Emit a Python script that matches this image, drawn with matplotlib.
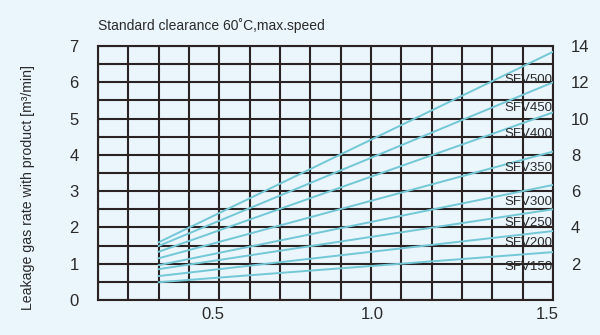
import numpy as np
import matplotlib.pyplot as plt

plt.rcParams['font.family'] = ['Liberation Sans', 'DejaVu Sans']

# leakage rate at the start and end of the speed range, per size
sizes = ['SFV150', 'SFV200', 'SFV250', 'SFV300', 'SFV350', 'SFV400', 'SFV450', 'SFV500']
x_range = [0.3, 1.6]
start_vals = [0.49, 0.66, 0.85, 0.96, 1.15, 1.33, 1.49, 1.59]
end_vals = [1.32, 1.90, 2.50, 3.17, 4.09, 5.17, 6.00, 6.84]
label_y = [0.91, 1.57, 2.12, 2.70, 3.64, 4.58, 5.29, 6.06]

x_tick_pos = [0.479, 1.003, 1.582]
x_tick_labels = ['0.5', '1.0', '1.5']

bg = '#eaf5fc'
grid_col = '#2b2323'
line_col = '#72c8d6'
text_col = '#2a2a2a'

fig = plt.figure(figsize=(6, 3.35), dpi=100, facecolor=bg)
ax = fig.add_axes([98/600, 1-300/335, 455/600, 254/335])
ax.set_facecolor(bg)

ax.set_xlim(0.1, 1.6)
ax.set_ylim(0, 7)

for i, name in enumerate(sizes):
    ax.plot(x_range, [start_vals[i], end_vals[i]], color=line_col, lw=1.4, zorder=3)
    ax.text(1.597, label_y[i], name, ha='right', va='center', fontsize=9.5,
            color=text_col, zorder=4)

ax.set_xticks(x_tick_pos, x_tick_labels)
ax.set_yticks(np.arange(0, 8, 1))

# grid cells: 0.1 wide, 0.5 high (drawn by hand so they don't depend on ticks)
for gx in np.arange(0.1, 1.61, 0.1):
    ax.axvline(gx, color=grid_col, lw=1.5, zorder=1)
for gy in np.arange(0, 7.01, 0.5):
    ax.axhline(gy, color=grid_col, lw=1.5, zorder=1)
for s in ax.spines.values():
    s.set_color(grid_col)
    s.set_linewidth(1.5)

ax.tick_params(which='both', length=0)
ax.tick_params(axis='x', labelsize=12, colors=text_col, pad=5)
ax.tick_params(axis='y', labelsize=12, colors=text_col, pad=14)

ax2 = ax.twinx()
ax2.set_ylim(0, 14)
ax2.set_yticks(np.arange(2, 15, 2))
ax2.tick_params(length=0, labelsize=12, colors=text_col, pad=13)
for s in ax2.spines.values():
    s.set_visible(False)

fig.text(98/600, 1-26/335, 'Standard clearance 60˚C,max.speed', fontsize=10,
         color=text_col, ha='left', va='center')
fig.text(28/600, 1-188/335, 'Leakage gas rate with product [m³/min]', fontsize=10.2,
         color=text_col, rotation=90, ha='center', va='center')

fig.savefig('out.png', dpi=100, facecolor=bg)
